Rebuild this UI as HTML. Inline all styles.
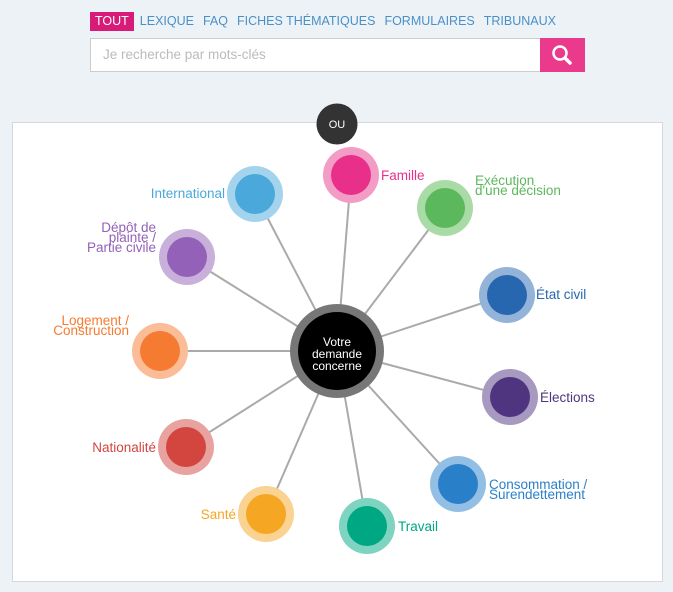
<!DOCTYPE html>
<html><head><meta charset="utf-8"><style>
body{margin:0;width:673px;height:592px;background:#edf2f6;font-family:"Liberation Sans",sans-serif;position:relative;overflow:hidden}
.nav{position:absolute;top:12px;left:90px;height:19px;font-size:12.5px;color:#4a90c8;white-space:nowrap}
.nav span{display:inline-block;line-height:19px;margin-right:9px}
.nav .on{background:#d81b79;color:#fff;padding:0 5px;margin-right:6px}
.search{position:absolute;left:90px;top:38px;width:449px;height:32px;background:#fff;border:1px solid #ccc;font-size:13.5px;color:#bbb;line-height:32px;box-sizing:content-box}
.search span{padding-left:12px}
.btn{position:absolute;left:540px;top:38px;width:45px;height:34px;background:#ea3a8c}
.card{position:absolute;left:12px;top:122px;width:649px;height:458px;background:#fff;border:1px solid #d5d8db}
svg{position:absolute;left:0;top:0}
</style></head><body>
<div class="nav"><span class="on">TOUT</span><span>LEXIQUE</span><span>FAQ</span><span>FICHES THÉMATIQUES</span><span>FORMULAIRES</span><span>TRIBUNAUX</span></div>
<div class="search"><span>Je recherche par mots-clés</span></div>
<div class="btn"><svg width="45" height="34"><circle cx="20" cy="15" r="6.5" fill="none" stroke="#fff" stroke-width="2.5"/><line x1="25" y1="20" x2="30" y2="25" stroke="#fff" stroke-width="3.5" stroke-linecap="round"/></svg></div>
<div class="card"></div>
<svg width="673" height="592" font-family="Liberation Sans, sans-serif" font-size="13.5">
<g stroke="#aaa" stroke-width="2">
<line x1="337" y1="351" x2="351" y2="175"/><line x1="337" y1="351" x2="445" y2="208"/>
<line x1="337" y1="351" x2="507" y2="295"/><line x1="337" y1="351" x2="510" y2="397"/>
<line x1="337" y1="351" x2="458" y2="484"/><line x1="337" y1="351" x2="367" y2="526"/>
<line x1="337" y1="351" x2="266" y2="514"/><line x1="337" y1="351" x2="186" y2="447"/>
<line x1="337" y1="351" x2="160" y2="351"/><line x1="337" y1="351" x2="187" y2="257"/>
<line x1="337" y1="351" x2="255" y2="194"/>
</g>
<circle cx="337" cy="124" r="20.5" fill="#333"/>
<text x="337" y="128" fill="#fff" font-size="11" text-anchor="middle">OU</text>
<circle cx="337" cy="351" r="47" fill="#777"/><circle cx="337" cy="351" r="39" fill="#000"/>
<text fill="#fff" font-size="12" text-anchor="middle"><tspan x="337" y="346">Votre</tspan><tspan x="337" y="358">demande</tspan><tspan x="337" y="370">concerne</tspan></text>
<g>
<circle cx="351" cy="175" r="28" fill="#f39cc6"/><circle cx="351" cy="175" r="20" fill="#e8308a"/>
<circle cx="445" cy="208" r="28" fill="#a9dba7"/><circle cx="445" cy="208" r="20" fill="#5cb85c"/>
<circle cx="507" cy="295" r="28" fill="#93b3d8"/><circle cx="507" cy="295" r="20" fill="#2767b0"/>
<circle cx="510" cy="397" r="28" fill="#a799bf"/><circle cx="510" cy="397" r="20" fill="#4f3580"/>
<circle cx="458" cy="484" r="28" fill="#94bfe4"/><circle cx="458" cy="484" r="20" fill="#2a7fc9"/>
<circle cx="367" cy="526" r="28" fill="#7fd3c1"/><circle cx="367" cy="526" r="20" fill="#00a783"/>
<circle cx="266" cy="514" r="28" fill="#fad291"/><circle cx="266" cy="514" r="20" fill="#f5a623"/>
<circle cx="186" cy="447" r="28" fill="#e8a29f"/><circle cx="186" cy="447" r="20" fill="#d2463f"/>
<circle cx="160" cy="351" r="28" fill="#fabd98"/><circle cx="160" cy="351" r="20" fill="#f57b32"/>
<circle cx="187" cy="257" r="28" fill="#c9b0db"/><circle cx="187" cy="257" r="20" fill="#9461b8"/>
<circle cx="255" cy="194" r="28" fill="#a4d3ed"/><circle cx="255" cy="194" r="20" fill="#4aa8db"/>
</g>
<text x="381" y="180" fill="#e8308a">Famille</text>
<text fill="#5cb85c"><tspan x="475" y="185">Exécution</tspan><tspan x="475" y="195">d'une décision</tspan></text>
<text x="536" y="299" fill="#2767b0">État civil</text>
<text x="540" y="402" fill="#4f3580">Élections</text>
<text fill="#2a7fc9"><tspan x="489" y="489">Consommation /</tspan><tspan x="489" y="499">Surendettement</tspan></text>
<text x="398" y="531" fill="#00a783">Travail</text>
<text x="236" y="519" fill="#f5a623" text-anchor="end">Santé</text>
<text x="156" y="452" fill="#d2463f" text-anchor="end">Nationalité</text>
<text fill="#f57b32" text-anchor="end"><tspan x="129" y="325">Logement /</tspan><tspan x="129" y="335">Construction</tspan></text>
<text fill="#9461b8" text-anchor="end"><tspan x="156" y="232">Dépôt de</tspan><tspan x="156" y="242">plainte /</tspan><tspan x="156" y="252">Partie civile</tspan></text>
<text x="225" y="198" fill="#4aa8db" text-anchor="end">International</text>
</svg>
</body></html>
